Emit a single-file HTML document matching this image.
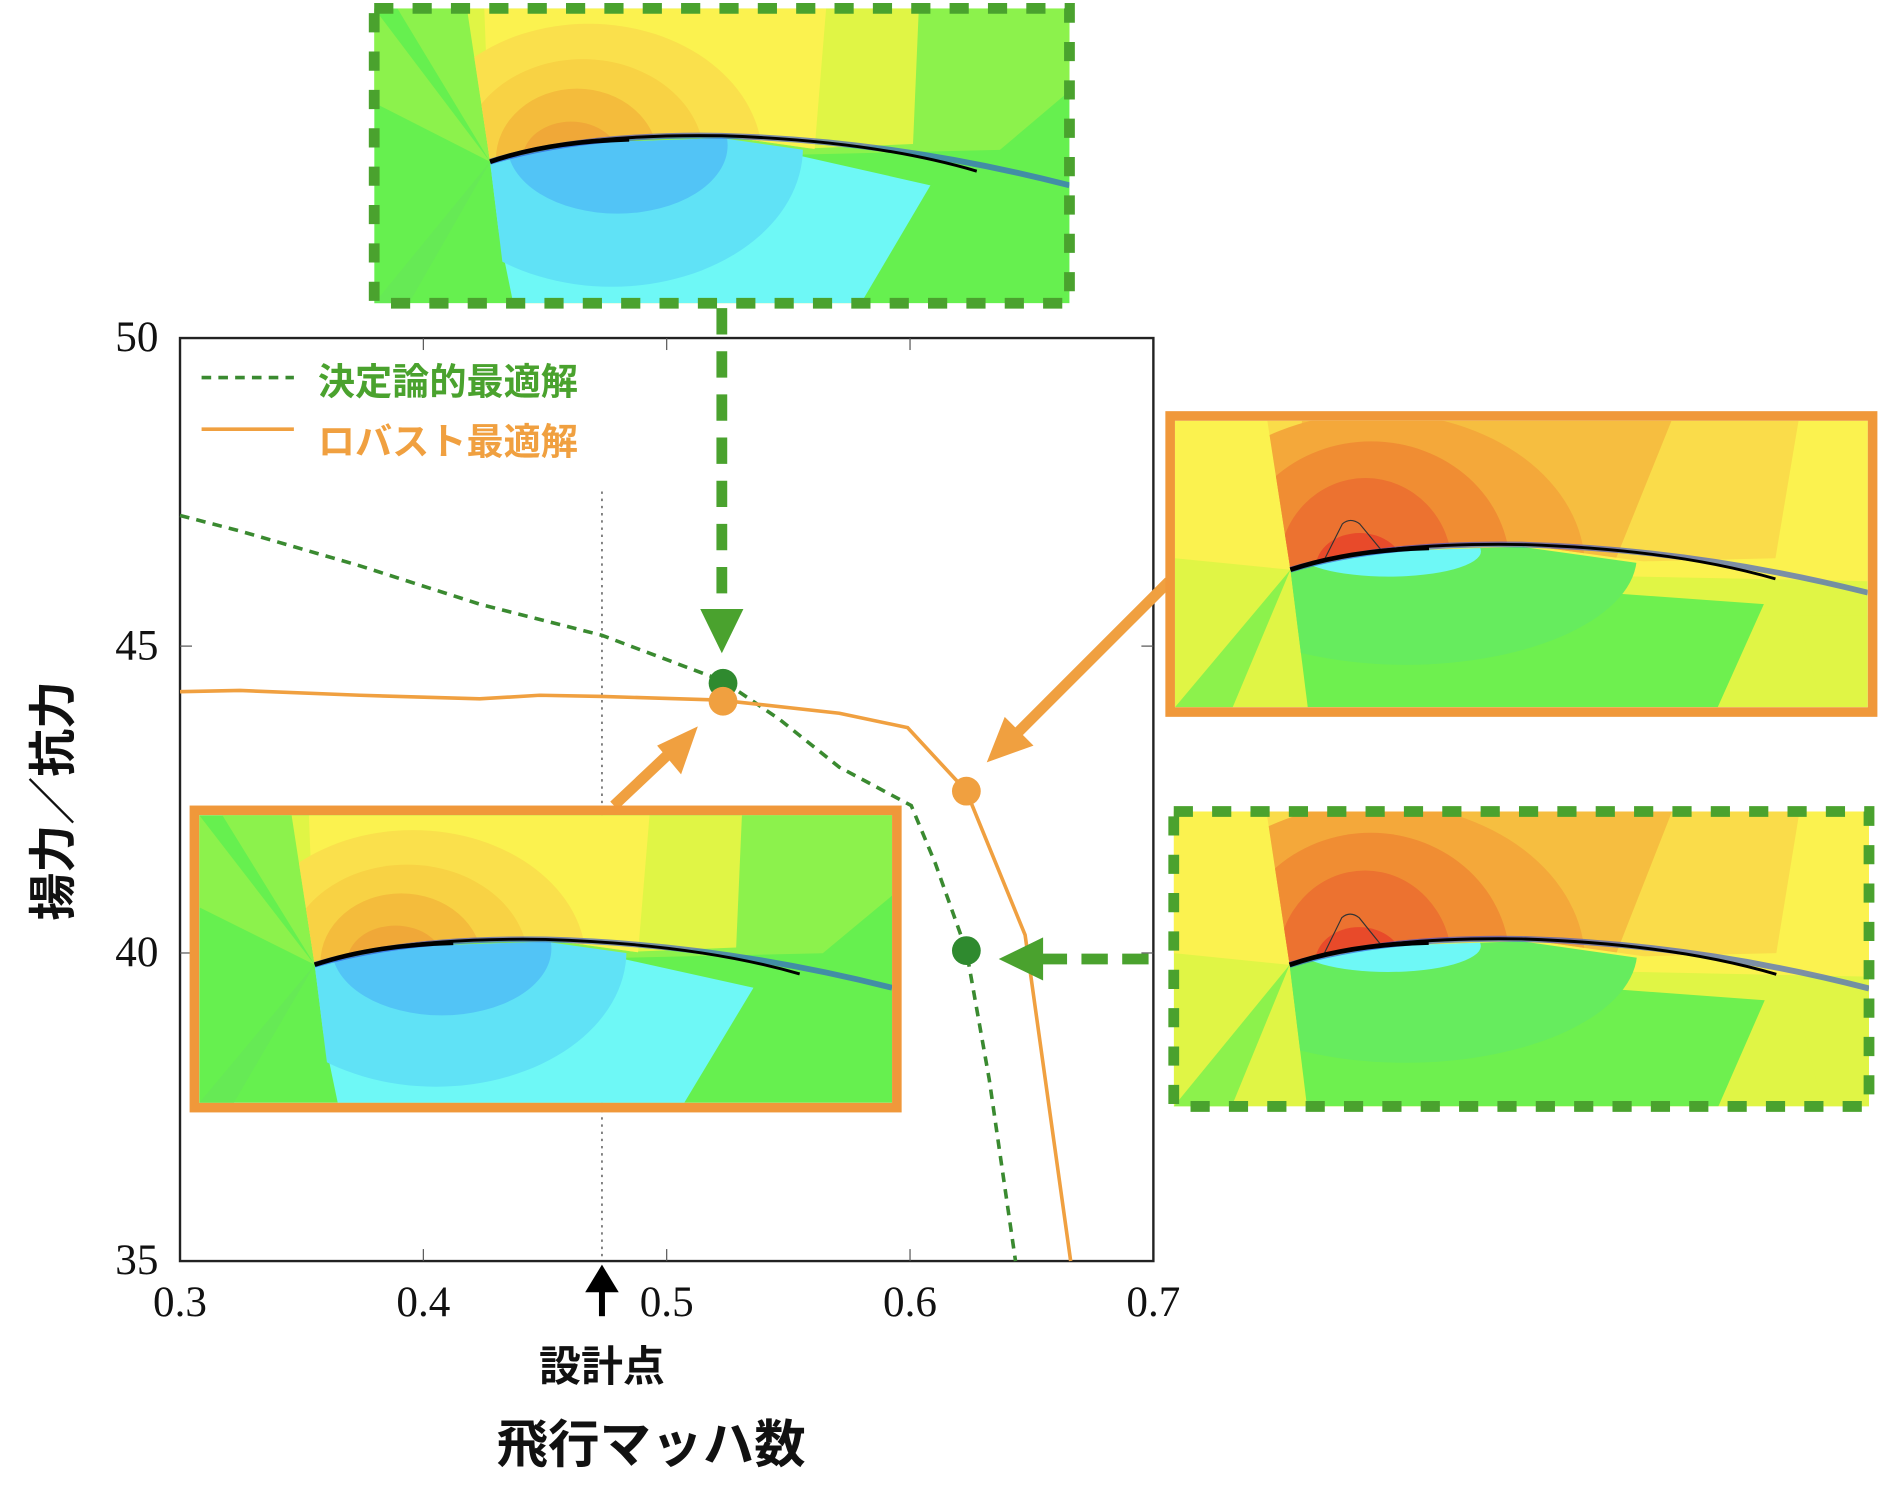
<!DOCTYPE html>
<html><head><meta charset="utf-8"><style>html,body{margin:0;padding:0;background:#fff}svg{display:block}</style></head>
<body>
<svg xmlns="http://www.w3.org/2000/svg" width="1880" height="1502" viewBox="0 0 1568 1253">
<defs>
<clipPath id="up"><polygon points="80,0 600,0 600,150 300,108 180,112 100,130"/></clipPath>
<clipPath id="dn"><polygon points="100,130 180,114 300,110 600,152 600,250 115,250"/></clipPath>
<symbol id="cA" viewBox="0 0 600 250" preserveAspectRatio="none">
<rect width="600" height="250" fill="#66f04f"/>
<polygon points="0,0 100,130 0,80" fill="#8cf24c"/>
<polygon points="20,0 600,0 600,70 540,120 100,130" fill="#8cf24c"/>
<polygon points="0,250 100,130 30,250" fill="#66ea55"/>
<g clip-path="url(#up)">
<polygon points="60,0 470,0 465,115 100,130" fill="#e0f545"/>
<polygon points="95,0 390,0 380,120 100,130" fill="#fbf24f"/>
<ellipse cx="185" cy="128" rx="150" ry="115" fill="#fae04c"/>
<ellipse cx="180" cy="128" rx="105" ry="85" fill="#f8d244"/>
<ellipse cx="175" cy="128" rx="70" ry="60" fill="#f4bc3c"/>
<ellipse cx="170" cy="128" rx="42" ry="32" fill="#f0a838"/>
</g>
<g clip-path="url(#dn)">
<polygon points="95,130 120,250 420,250 480,150 300,110" fill="#6ef8f6"/>
<ellipse cx="205" cy="118" rx="165" ry="118" fill="#60e2f6"/>
<ellipse cx="210" cy="116" rx="95" ry="58" fill="#52c4f6"/>
</g>
<path d="M100,130 Q180,106 300,108 Q450,112 600,150" stroke="#2a4ce0" stroke-width="5" fill="none" opacity="0.6"/>
<path d="M100,130 Q170,106 300,108 Q430,112 520,138" stroke="#000" stroke-width="2.5" fill="none"/>
<path d="M100,130 Q150,113 220,111" stroke="#000" stroke-width="4" fill="none"/>
</symbol>
<symbol id="cB" viewBox="0 0 600 250" preserveAspectRatio="none">
<rect width="600" height="250" fill="#e0f545"/>
<polygon points="0,0 600,0 600,140 100,130 0,120" fill="#fbf24f"/>
<polygon points="0,250 100,130 50,250" fill="#8cf24c"/>
<g clip-path="url(#up)">
<polygon points="55,0 540,0 520,120 100,130" fill="#fadc4a"/>
<polygon points="110,0 430,0 380,125 100,130" fill="#f6be40"/>
<ellipse cx="175" cy="128" rx="180" ry="135" fill="#f4a83a"/>
<ellipse cx="170" cy="128" rx="120" ry="110" fill="#f08d33"/>
<ellipse cx="165" cy="128" rx="75" ry="78" fill="#ec7230"/>
<ellipse cx="160" cy="128" rx="38" ry="30" fill="#e84a2a"/>
<path d="M130,120 L145,90 Q152,84 160,90 L178,112 Z" fill="none" stroke="#333" stroke-width="1"/>
</g>
<g clip-path="url(#dn)">
<polygon points="95,130 90,250 470,250 510,160" fill="#6ef04f"/>
<ellipse cx="200" cy="118" rx="200" ry="95" fill="#66ec5e"/>
<ellipse cx="185" cy="114" rx="80" ry="22" fill="#6ef8f6"/>
<polygon points="540,170 600,170 600,250 560,250" fill="#e0f545"/>
</g>
<path d="M100,130 Q180,106 300,108 Q450,112 600,150" stroke="#2a4ce0" stroke-width="5" fill="none" opacity="0.6"/>
<path d="M100,130 Q170,106 300,108 Q430,112 520,138" stroke="#000" stroke-width="2.5" fill="none"/>
<path d="M100,130 Q150,113 220,111" stroke="#000" stroke-width="4" fill="none"/>
</symbol>
</defs>

<use href="#cA" x="312" y="7" width="580" height="246"/>
<rect x="312" y="7" width="580" height="246" fill="none" stroke="#4aa22e" stroke-width="9" stroke-dasharray="16,16"/>
<line x1="602" y1="257" x2="602" y2="515" stroke="#4aa22e" stroke-width="9" stroke-dasharray="22,14"/>
<polygon points="584,508 620,508 602,545" fill="#4aa22e"/>

<rect x="150" y="282" width="812" height="770" fill="none" stroke="#222" stroke-width="2"/>
<g stroke="#555" stroke-width="1">
<line x1="353" y1="282" x2="353" y2="292"/><line x1="556" y1="282" x2="556" y2="292"/><line x1="759" y1="282" x2="759" y2="292"/>
<line x1="353" y1="1052" x2="353" y2="1042"/><line x1="556" y1="1052" x2="556" y2="1042"/><line x1="759" y1="1052" x2="759" y2="1042"/>
<line x1="150" y1="539" x2="160" y2="539"/><line x1="150" y1="795" x2="160" y2="795"/>
<line x1="962" y1="539" x2="952" y2="539"/><line x1="962" y1="795" x2="952" y2="795"/>
</g>
<line x1="502" y1="410" x2="502" y2="1052" stroke="#777" stroke-width="1.5" stroke-dasharray="2,4"/>
<g font-family="Liberation Serif, serif" font-size="36" fill="#111">
<text x="132" y="293" text-anchor="end">50</text>
<text x="132" y="550" text-anchor="end">45</text>
<text x="132" y="806" text-anchor="end">40</text>
<text x="132" y="1063" text-anchor="end">35</text>
<text x="150" y="1098" text-anchor="middle">0.3</text>
<text x="353" y="1098" text-anchor="middle">0.4</text>
<text x="556" y="1098" text-anchor="middle">0.5</text>
<text x="759" y="1098" text-anchor="middle">0.6</text>
<text x="962" y="1098" text-anchor="middle">0.7</text>
</g>

<line x1="168" y1="315" x2="245" y2="315" stroke="#3a8a30" stroke-width="3" stroke-dasharray="8,6"/>
<line x1="168" y1="358" x2="245" y2="358" stroke="#f0a040" stroke-width="3"/>
<g font-family="Liberation Sans, 'Noto Sans CJK JP', sans-serif" font-weight="bold" font-size="31">
<text x="265" y="329" fill="#4aa22e">決定論的最適解</text>
<text x="265" y="379" fill="#f0a040">ロバスト最適解</text>
</g>

<polyline points="150,430 200,443 300,472 400,504 502,530 603,568 650,600 700,640 760,672 780,720 806,793 825,900 847,1052" fill="none" stroke="#3a8a30" stroke-width="3" stroke-dasharray="8,6"/>
<polyline points="150,577 200,576 300,580 400,583 450,580 502,581 600,584 700,595 757,607 806,660 855,780 893,1052" fill="none" stroke="#f0a040" stroke-width="3"/>

<line x1="512" y1="672" x2="565" y2="622" stroke="#f0a040" stroke-width="9"/>
<polygon points="582,606 548,622 568,646" fill="#f0a040"/>
<line x1="975" y1="485" x2="845" y2="615" stroke="#f0a040" stroke-width="9"/>
<polygon points="823,636 838,598 862,622" fill="#f0a040"/>
<line x1="958" y1="800" x2="868" y2="800" stroke="#4aa22e" stroke-width="9" stroke-dasharray="22,12"/>
<polygon points="833,800 870,782 870,818" fill="#4aa22e"/>

<circle cx="603" cy="570" r="12" fill="#2f8a2f"/>
<circle cx="603" cy="585" r="12" fill="#f0a040"/>
<circle cx="806" cy="660" r="12" fill="#f0a040"/>
<circle cx="806" cy="793" r="12" fill="#2f8a2f"/>

<use href="#cA" x="166" y="680" width="578" height="240"/>
<rect x="162" y="676" width="586" height="248" fill="none" stroke="#f0983a" stroke-width="8"/>

<use href="#cB" x="980" y="351" width="578" height="239"/>
<rect x="976" y="347" width="586" height="247" fill="none" stroke="#f0983a" stroke-width="8"/>

<use href="#cB" x="979" y="677" width="580" height="246"/>
<rect x="979" y="677" width="580" height="246" fill="none" stroke="#4aa22e" stroke-width="9" stroke-dasharray="16,16"/>

<line x1="502" y1="1098" x2="502" y2="1075" stroke="#000" stroke-width="5"/>
<polygon points="488,1078 516,1078 502,1055" fill="#000"/>
<g font-family="Liberation Sans, 'Noto Sans CJK JP', sans-serif" font-weight="bold" fill="#111">
<text x="502" y="1152" text-anchor="middle" font-size="35">設計点</text>
<text x="543" y="1220" text-anchor="middle" font-size="43">飛行マッハ数</text>
<text transform="translate(58,668) rotate(-90)" text-anchor="middle" font-size="40">揚力／抗力</text>
</g>
</svg>
</body></html>
